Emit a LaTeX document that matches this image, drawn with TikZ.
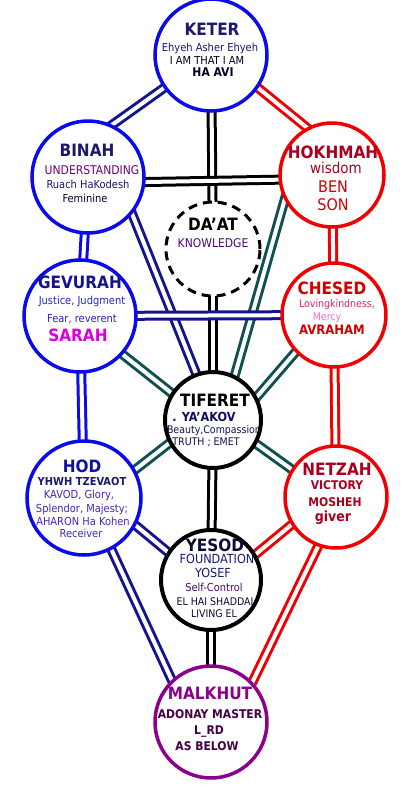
\documentclass[tikz,border=0pt]{standalone}
\usepackage{fontspec}
\setmainfont{DejaVu Sans Condensed}
\usepackage{tikz}
\usetikzlibrary{backgrounds}
\usepackage{xcolor}

\definecolor{ringblue}{RGB}{10,10,235}
\definecolor{ringred}{RGB}{240,0,0}
\definecolor{ringpurple}{RGB}{140,0,140}
\definecolor{navyline}{RGB}{20,20,140}
\definecolor{tealline}{RGB}{15,80,80}
\definecolor{navytxt}{RGB}{25,25,110}
\definecolor{bluetxt}{RGB}{40,40,190}
\definecolor{violettxt}{RGB}{70,40,180}
\definecolor{purpletxt}{RGB}{110,0,120}
\definecolor{maroontxt}{RGB}{170,0,30}
\definecolor{redtxt}{RGB}{210,0,0}
\definecolor{pinktxt}{RGB}{215,40,110}
\definecolor{lightpink}{RGB}{250,110,200}
\definecolor{magentatxt}{RGB}{220,0,220}
\definecolor{plumtxt}{RGB}{70,0,70}

\begin{document}
\begin{tikzpicture}[x=1pt,y=-1pt,
    sefira/.style={circle, fill=white, line width=3.5pt, inner sep=0pt, minimum size=#1},
    channel/.style={line width=3pt, double=white, double distance=4pt, shorten <=-6pt, shorten >=-6pt},
    ttl/.style={anchor=base, inner sep=0pt, font=\fontsize{17}{17}\selectfont\bfseries},
    sml/.style={anchor=base, inner sep=0pt, font=\fontsize{11}{11}\selectfont},
    smb/.style={anchor=base, inner sep=0pt, font=\fontsize{12}{12}\selectfont\bfseries}]
    \useasboundingbox (0,0) rectangle (419,811);
    % -------------------------
    % The circles
    % -------------------------
    \node[sefira=112pt, draw=ringblue] (keter) at (211,55) {};
    \node[sefira=112pt, draw=ringblue] (binah) at (88,177) {};
    \node[sefira=104pt, draw=ringred] (hokhmah) at (332,175) {};
    \node[sefira=94pt, draw=black, line width=3pt, dash pattern=on 9pt off 6pt] (daat) at (213,249) {};
    \node[sefira=112pt, draw=ringblue] (gevurah) at (80,316) {};
    \node[sefira=104pt, draw=ringred] (chesed) at (334,315) {};
    \node[sefira=96pt, draw=black, line width=4pt] (tiferet) at (213,420) {};
    \node[sefira=114pt, draw=ringblue] (hod) at (84,498) {};
    \node[sefira=102pt, draw=ringred] (netzah) at (336,497) {};
    \node[sefira=100pt, draw=black, line width=4pt] (yesod) at (211,580) {};
    \node[sefira=112pt, draw=ringpurple] (malkhut) at (211,722) {};

    % -------------------------
    % Channels (behind the circles)
    % -------------------------
    \begin{scope}[on background layer]
    \draw[channel, draw=navyline] (keter.215) -- (binah.65);
    \draw[channel, draw=ringred] (keter.-35) -- (hokhmah.118);
    \draw[channel, draw=black] (keter) -- (daat);
    \draw[channel, draw=black] (daat) -- (tiferet);
    \draw[channel, draw=black] (binah.-5) -- (hokhmah.185);
    \draw[channel, draw=ringblue] (binah) -- (gevurah);
    \draw[channel, draw=ringred] (hokhmah) -- (chesed);
    \draw[channel, draw=navyline] (binah.-40) -- (tiferet.110);
    \draw[channel, draw=tealline] (hokhmah.-152) -- (tiferet.64);
    \draw[channel, draw=tealline] (gevurah.-42) -- (tiferet.147);
    \draw[channel, draw=tealline] (chesed.224) -- (tiferet.28);
    \draw[channel, draw=navyline] (gevurah) -- (chesed);
    \draw[channel, draw=ringblue] (gevurah) -- (hod);
    \draw[channel, draw=ringred] (chesed) -- (netzah);
    \draw[channel, draw=tealline] (hod.29) -- (tiferet.208);
    \draw[channel, draw=tealline] (netzah.148) -- (tiferet.-29);
    \draw[channel, draw=black] (tiferet) -- (yesod);
    \draw[channel, draw=navyline] (hod.-28) -- (yesod.147);
    \draw[channel, draw=ringred] (netzah.212) -- (yesod.30);
    \draw[channel, draw=navyline] (hod.-62) -- (malkhut.133);
    \draw[channel, draw=ringred] (netzah.250) -- (malkhut.44);
    \draw[channel, draw=black] (yesod) -- (malkhut);
    \end{scope}

    % -------------------------
    % Keter
    % -------------------------
    \node[ttl, text=navytxt] (keter1) at (212,35) {KETER};
    \node[sml, text=navytxt] (keter2) at (210,51) {Ehyeh Asher Ehyeh};
    \node[sml, text=black!85!blue] (keter3) at (207,64) {I AM THAT I AM};
    \node[smb, text=black!85!blue] (keter4) at (213,76) {HA AVI};

    % -------------------------
    % Binah and Hokhmah
    % -------------------------
    \node[ttl, text=navytxt] (binah1) at (87,156) {BINAH};
    \node[sml, text=purpletxt, font=\fontsize{12}{12}\selectfont] (binah2) at (92,174) {UNDERSTANDING};
    \node[sml, text=navytxt] (binah3) at (88,188) {Ruach HaKodesh};
    \node[sml, text=black!80!blue] (binah4) at (85,202) {Feminine};

    \node[ttl, text=maroontxt] (hokhmah1) at (333,158) {HOKHMAH};
    \node[sml, text=maroontxt, font=\fontsize{15}{15}\selectfont] (hokhmah2) at (336,173) {wisdom};
    \node[sml, text=redtxt, font=\fontsize{16}{16}\selectfont] (hokhmah3) at (333,192) {BEN};
    \node[sml, text=redtxt, font=\fontsize{16}{16}\selectfont] (hokhmah4) at (333,210) {SON};

    % -------------------------
    % Da'at
    % -------------------------
    \node[ttl, text=black] (daat1) at (213,230) {DA'AT};
    \node[sml, text=purpletxt!70!navytxt, font=\fontsize{12}{12}\selectfont] (daat2) at (213,247) {KNOWLEDGE};

    % -------------------------
    % Gevurah and Chesed
    % -------------------------
    \node[ttl, text=navyline] (gevurah1) at (80,288) {GEVURAH};
    \node[sml, text=bluetxt] (gevurah2) at (82,304) {Justice, Judgment};
    \node[sml, text=bluetxt] (gevurah3) at (82,322) {Fear, reverent};
    \node[ttl, text=magentatxt] (gevurah4) at (78,341) {SARAH};

    \node[ttl, text=redtxt] (chesed1) at (332,294) {CHESED};
    \node[sml, text=pinktxt, font=\fontsize{10.5}{10.5}\selectfont] (chesed2) at (337,307) {Lovingkindness,};
    \node[sml, text=lightpink, font=\fontsize{10.5}{10.5}\selectfont] (chesed3) at (327,320) {Mercy};
    \node[smb, text=redtxt, font=\fontsize{13}{13}\selectfont\bfseries] (chesed4) at (332,334) {AVRAHAM};

    % -------------------------
    % Tiferet
    % -------------------------
    \node[ttl, text=black] (tiferet1) at (215,406) {TIFERET};
    \node[smb, text=navyline!70!black, font=\fontsize{12.5}{12.5}\selectfont\bfseries] (tiferet2) at (204,421) {. YA'AKOV};
    \node[sml, text=navytxt!70!black, font=\fontsize{10.5}{10.5}\selectfont] (tiferet3) at (214,433) {Beauty,Compassion};
    \node[sml, text=navytxt!70!black, font=\fontsize{10.5}{10.5}\selectfont] (tiferet4) at (206,445) {TRUTH ; EMET};

    % -------------------------
    % Hod and Netzah
    % -------------------------
    \node[ttl, text=navyline!80!blue] (hod1) at (82,472) {HOD};
    \node[smb, text=navytxt, font=\fontsize{11}{11}\selectfont\bfseries] (hod2) at (82,485) {YHWH TZEVAOT};
    \node[sml, text=violettxt] (hod3) at (79,498) {KAVOD, Glory,};
    \node[sml, text=violettxt] (hod4) at (82,512) {Splendor, Majesty;};
    \node[sml, text=violettxt] (hod5) at (83,525) {AHARON Ha Kohen};
    \node[sml, text=violettxt] (hod6) at (81,537) {Receiver};

    \node[ttl, text=maroontxt] (netzah1) at (337,475) {NETZAH};
    \node[smb, text=maroontxt] (netzah2) at (337,489) {VICTORY};
    \node[smb, text=maroontxt] (netzah3) at (335,506) {MOSHEH};
    \node[smb, text=maroontxt, font=\fontsize{14}{14}\selectfont\bfseries] (netzah4) at (333,521) {giver};

    % -------------------------
    % Yesod
    % -------------------------
    \node[ttl, text=navytxt!50!black] (yesod1) at (215,551) {YESOD};
    \node[sml, text=navytxt, font=\fontsize{12.5}{12.5}\selectfont] (yesod2) at (217,563) {FOUNDATION};
    \node[sml, text=navytxt, font=\fontsize{12.5}{12.5}\selectfont] (yesod3) at (213,577) {YOSEF};
    \node[sml, text=purpletxt!60!navytxt] (yesod4) at (214,591) {Self-Control};
    \node[sml, text=navytxt!50!black, font=\fontsize{10.5}{10.5}\selectfont] (yesod5) at (215,605) {EL HAI SHADDAI};
    \node[sml, text=navytxt!50!black, font=\fontsize{10.5}{10.5}\selectfont] (yesod6) at (214,617) {LIVING EL};

    % -------------------------
    % Malkhut
    % -------------------------
    \node[ttl, text=ringpurple] (malkhut1) at (210,699) {MALKHUT};
    \node[smb, text=plumtxt] (malkhut2) at (210,718) {ADONAY MASTER};
    \node[smb, text=plumtxt] (malkhut3) at (209,734) {L\_RD};
    \node[smb, text=plumtxt] (malkhut4) at (207,750) {AS BELOW};

\end{tikzpicture}
\end{document}
